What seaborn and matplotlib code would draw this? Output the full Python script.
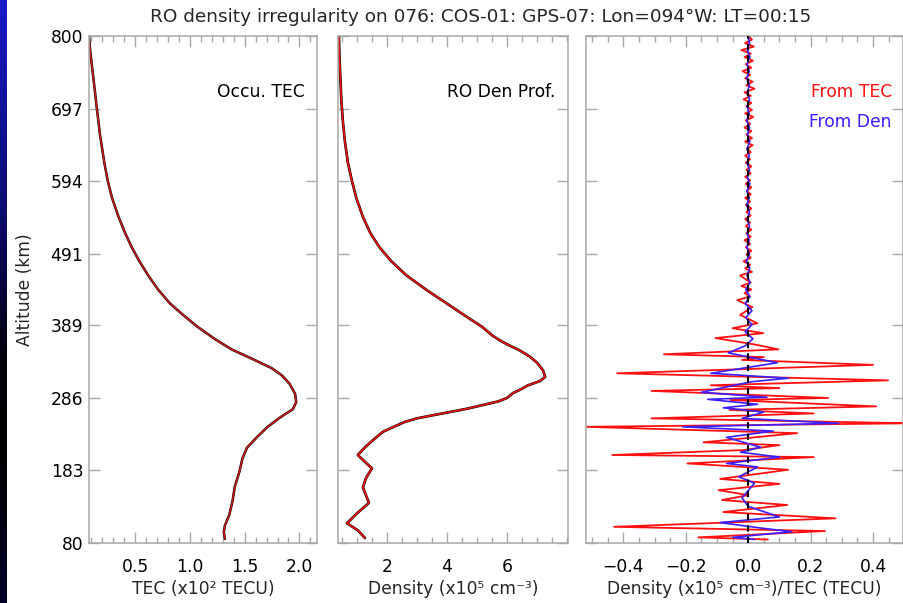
import numpy as np
import pandas as pd
import matplotlib
matplotlib.use("Agg")
import matplotlib.pyplot as plt
from matplotlib.colors import LinearSegmentedColormap
from matplotlib.ticker import MultipleLocator, FixedLocator
import seaborn as sns

# ---------------- data ----------------
y_ticks = [80, 183, 286, 389, 491, 594, 697, 800]

tec_alt = [800, 780, 760, 740, 720, 699, 680, 660, 640, 620, 595, 570, 543, 520, 500,
           480, 460, 440, 420, 405, 387, 370, 355, 340, 328, 318, 306, 292, 280, 270,
           259, 245, 230, 215, 200, 180, 160, 140, 120, 105, 95, 86]
tec_val = [0.08, 0.09, 0.105, 0.12, 0.135, 0.15, 0.165, 0.18, 0.20, 0.22, 0.25, 0.29,
           0.35, 0.41, 0.47, 0.54, 0.62, 0.71, 0.82, 0.93, 1.07, 1.225, 1.38, 1.59,
           1.75, 1.84, 1.91, 1.96, 1.97, 1.94, 1.83, 1.71, 1.61, 1.52, 1.48, 1.45,
           1.41, 1.39, 1.36, 1.32, 1.31, 1.32]

den_alt = [800, 770, 740, 710, 680, 650, 620, 595, 570, 543, 520, 500, 480, 460, 439,
           420, 400, 387, 375, 368, 360, 354, 345, 336, 325, 316, 310, 304, 298, 293,
           286, 281, 276, 271, 266, 262, 257, 252, 247, 238, 226, 215, 205, 198, 186,
           172, 159, 148, 137, 122, 108, 98, 87]
den_val = [0.40, 0.42, 0.45, 0.48, 0.53, 0.60, 0.70, 0.83, 0.98, 1.20, 1.45, 1.75,
           2.15, 2.65, 3.33, 4.00, 4.70, 5.17, 5.50, 5.75, 6.10, 6.40, 6.75, 7.00,
           7.20, 7.27, 7.10, 6.70, 6.45, 6.20, 6.00, 5.70, 5.20, 4.70, 4.10, 3.60,
           3.00, 2.60, 2.33, 1.87, 1.53, 1.25, 1.03, 1.20, 1.50, 1.30, 1.20, 1.30,
           1.40, 1.00, 0.67, 1.03, 1.27]

irr_tec_alt = [800, 795, 790, 785, 780, 775, 770, 765, 760, 755, 750, 745, 740, 735,
               730, 725, 720, 715, 710, 705, 700, 695, 690, 685, 680, 675, 670, 665,
               660, 655, 650, 645, 640, 635, 630, 625, 620, 615, 610, 605, 600, 595,
               590, 585, 580, 575, 570, 565, 560, 555, 550, 545, 540, 535, 530, 525,
               520, 515, 510, 505, 500, 495, 490, 485, 480, 475, 470, 465, 460, 455,
               450, 445, 440, 435, 430,
               425, 415, 404, 392, 385, 378, 371, 362, 355, 348, 344, 340, 333, 321,
               311, 304, 300, 296, 286, 283, 274, 269, 264, 257, 250, 245, 236, 223,
               219, 212, 205, 202, 193, 184, 171, 164, 155, 148, 141, 134, 124, 115,
               103, 97, 88, 85]
irr_tec_val = [0.000, 0.012, -0.010, 0.018, -0.022, 0.008, -0.012, 0.015, -0.008, 0.010,
               -0.018, 0.006, -0.010, 0.014, -0.006, 0.020, -0.012, 0.008, -0.015, 0.010,
               -0.006, 0.012, -0.010, 0.016, -0.008, 0.006, -0.012, 0.010, -0.006, 0.012,
               -0.010, 0.014, -0.004, 0.008, -0.010, 0.006, -0.008, 0.010, -0.006, 0.008,
               -0.010, 0.006, -0.008, 0.010, -0.005, 0.008, -0.010, 0.006, -0.008, 0.010,
               -0.006, 0.008, -0.010, 0.006, -0.008, 0.010, -0.006, 0.008, -0.012, 0.006,
               -0.008, 0.010, -0.006, 0.008, -0.015, 0.006, -0.010, 0.012, -0.026, -0.010,
               0.008, -0.022, 0.010, -0.012, 0.006,
               -0.035, 0.013, -0.026, 0.029, -0.05, 0.048, -0.105, 0.02, 0.097, -0.27,
               0.05, -0.02, 0.40, -0.42, 0.448, -0.12, 0.10, -0.31, 0.256, -0.058,
               0.41, -0.06, 0.21, -0.31, 0.52, -0.52, 0.157, -0.143, 0.10, -0.015,
               -0.436, 0.21, -0.195, 0.128, -0.09, 0.10, -0.095, 0.0, -0.084, 0.125,
               -0.08, 0.28, -0.43, 0.246, -0.16, 0.063]

irr_den_alt = [800, 790, 780, 770, 760, 750, 740, 730, 720, 710, 700, 690, 680, 670,
               660, 650, 640, 630, 620, 610, 600, 590, 580, 570, 560, 550, 540, 530,
               520, 510, 500, 490, 480, 470, 460, 450, 440, 430, 420, 410, 400, 390,
               380, 370, 360,
               350, 336, 321, 314, 309, 294, 287, 284, 277, 272, 266, 257, 250, 245,
               239, 230, 216, 209, 202, 193, 188, 174, 165, 144, 132, 117, 109, 101,
               96, 88, 85]
irr_den_val = [0.000, 0.004, -0.003, 0.005, -0.004, 0.003, -0.005, 0.004, -0.003, 0.004,
               -0.004, 0.003, -0.005, 0.004, -0.003, 0.005, -0.004, 0.003, -0.004, 0.004,
               -0.003, 0.005, -0.004, 0.003, -0.005, 0.004, -0.003, 0.004, -0.004, 0.003,
               -0.005, 0.004, -0.006, 0.005, -0.004, 0.006, -0.008, 0.005, -0.01, 0.012,
               -0.008, 0.012, -0.01, 0.015, -0.01,
               -0.064, 0.093, -0.12, 0.128, 0.01, -0.15, 0.06, -0.13, 0.03, -0.08,
               0.05, -0.02, 0.29, -0.21, 0.08, -0.07, 0.04, -0.025, 0.10, -0.07, 0.03,
               -0.03, 0.02, -0.02, 0.0, 0.10, -0.09, 0.045, 0.14, -0.05, 0.02]

title = "RO density irregularity on 076: COS-01: GPS-07: Lon=094°W: LT=00:15"

# ---------------- styling ----------------
sns.set_theme(style="white")
plt.rcParams["font.family"] = ["DejaVu Sans"]
FS = 12.3
SPINE = "#a8a8a8"
RED = "#ff1010"
BLUE = "#3a1fff"

fig = plt.figure(figsize=(9.04, 6.03), dpi=100)
W, H = 904, 603

def px_axes(left, right, top, bottom):
    return fig.add_axes([left / W, 1 - bottom / H, (right - left) / W, (bottom - top) / H])

ax1 = px_axes(89, 317, 36, 543)
ax2 = px_axes(338, 568, 36, 543)
ax3 = px_axes(586, 903, 36, 543)

df_tec = pd.DataFrame({"alt": tec_alt, "val": tec_val})
df_den = pd.DataFrame({"alt": den_alt, "val": den_val})
df_it = pd.DataFrame({"alt": irr_tec_alt, "val": irr_tec_val})
df_id = pd.DataFrame({"alt": irr_den_alt, "val": irr_den_val})

sns.lineplot(data=df_tec, x="val", y="alt", sort=False, estimator=None,
             color="black", lw=1.8, ax=ax1)
sns.lineplot(data=df_tec, x="val", y="alt", sort=False, estimator=None,
             color="#d01818", lw=1.1, ax=ax1)
sns.lineplot(data=df_den, x="val", y="alt", sort=False, estimator=None,
             color="black", lw=1.9, ax=ax2)
sns.lineplot(data=df_den, x="val", y="alt", sort=False, estimator=None,
             color="#f01010", lw=1.2, ax=ax2)

sns.lineplot(data=df_it, x="val", y="alt", sort=False, estimator=None,
             color=RED, lw=1.3, ax=ax3)
sns.lineplot(data=df_id, x="val", y="alt", sort=False, estimator=None,
             color=BLUE, lw=1.2, ax=ax3)
ax3.axvline(0, color="black", lw=1.5, ls=(0, (3, 2.5)), zorder=5)

ax1.set_xlim(0.08, 2.16)
ax2.set_xlim(0.37, 8.03)
ax3.set_xlim(-0.52, 0.496)

ax1.xaxis.set_major_locator(FixedLocator([0.5, 1.0, 1.5, 2.0]))
ax1.xaxis.set_minor_locator(MultipleLocator(0.1))
ax2.xaxis.set_major_locator(FixedLocator([2, 4, 6]))
ax2.xaxis.set_minor_locator(MultipleLocator(0.5))
ax3.xaxis.set_major_locator(FixedLocator([-0.4, -0.2, 0.0, 0.2, 0.4]))
ax3.xaxis.set_minor_locator(MultipleLocator(0.05))
ax1.set_xticklabels(["0.5", "1.0", "1.5", "2.0"])
ax2.set_xticklabels(["2", "4", "6"])
ax3.set_xticklabels(["\u22120.4", "\u22120.2", "0.0", "0.2", "0.4"])

for ax in (ax1, ax2, ax3):
    ax.set_ylim(80, 800)
    ax.set_yticks(y_ticks)
    for s in ax.spines.values():
        s.set_color(SPINE)
        s.set_linewidth(1.1)
    ax.tick_params(axis="both", which="both", direction="in", top=True, right=True,
                   bottom=True, left=True, color=SPINE, width=1.0)
    ax.tick_params(axis="both", which="major", length=8, labelsize=FS, labelcolor="black")
    ax.tick_params(axis="x", which="major", pad=11)
    ax.tick_params(axis="both", which="minor", length=4)
    ax.set_ylabel("")
    ax.set_facecolor("white")

ax1.set_yticklabels([str(v) for v in y_ticks])
ax1.tick_params(axis="y", pad=4)
ax2.set_yticklabels([])
ax3.set_yticklabels([])

ax1.set_xlabel("TEC (x10\u00b2 TECU)", fontsize=FS, labelpad=3)
ax2.set_xlabel("Density (x10\u2075 cm\u207b\u00b3)", fontsize=FS, labelpad=3)
ax3.set_xlabel("Density (x10\u2075 cm\u207b\u00b3)/TEC (TECU)", fontsize=FS, labelpad=3)

ax1.text(0.947, 0.89, "Occu. TEC", transform=ax1.transAxes, ha="right", va="center",
         fontsize=FS, color="black")
ax2.text(0.943, 0.89, "RO Den Prof.", transform=ax2.transAxes, ha="right", va="center",
         fontsize=FS, color="black")
ax3.text(0.965, 0.89, "From TEC", transform=ax3.transAxes, ha="right", va="center",
         fontsize=FS, color=RED)
ax3.text(0.965, 0.83, "From Den", transform=ax3.transAxes, ha="right", va="center",
         fontsize=FS, color=BLUE)

fig.text(25 / W, 1 - 290 / H, "Altitude (km)", rotation=90, ha="center", va="center",
         fontsize=FS)
fig.text(481 / W, 1 - 17 / H, title, ha="center", va="center", fontsize=13.3)

# left-edge gradient strip
strip = fig.add_axes([0, 0, 7 / W, 1])
cmap = LinearSegmentedColormap.from_list(
    "strip", [(0.0, "#1a1ac8"), (0.35, "#0c0c70"), (0.6, "#000008"), (0.75, "#000000"),
              (1.0, "#00002a")])
strip.imshow(np.linspace(0, 1, 256).reshape(-1, 1), aspect="auto", cmap=cmap,
             extent=[0, 1, 0, 1], origin="upper")
strip.set_axis_off()

fig.savefig("out.png", dpi=100, facecolor="white")
